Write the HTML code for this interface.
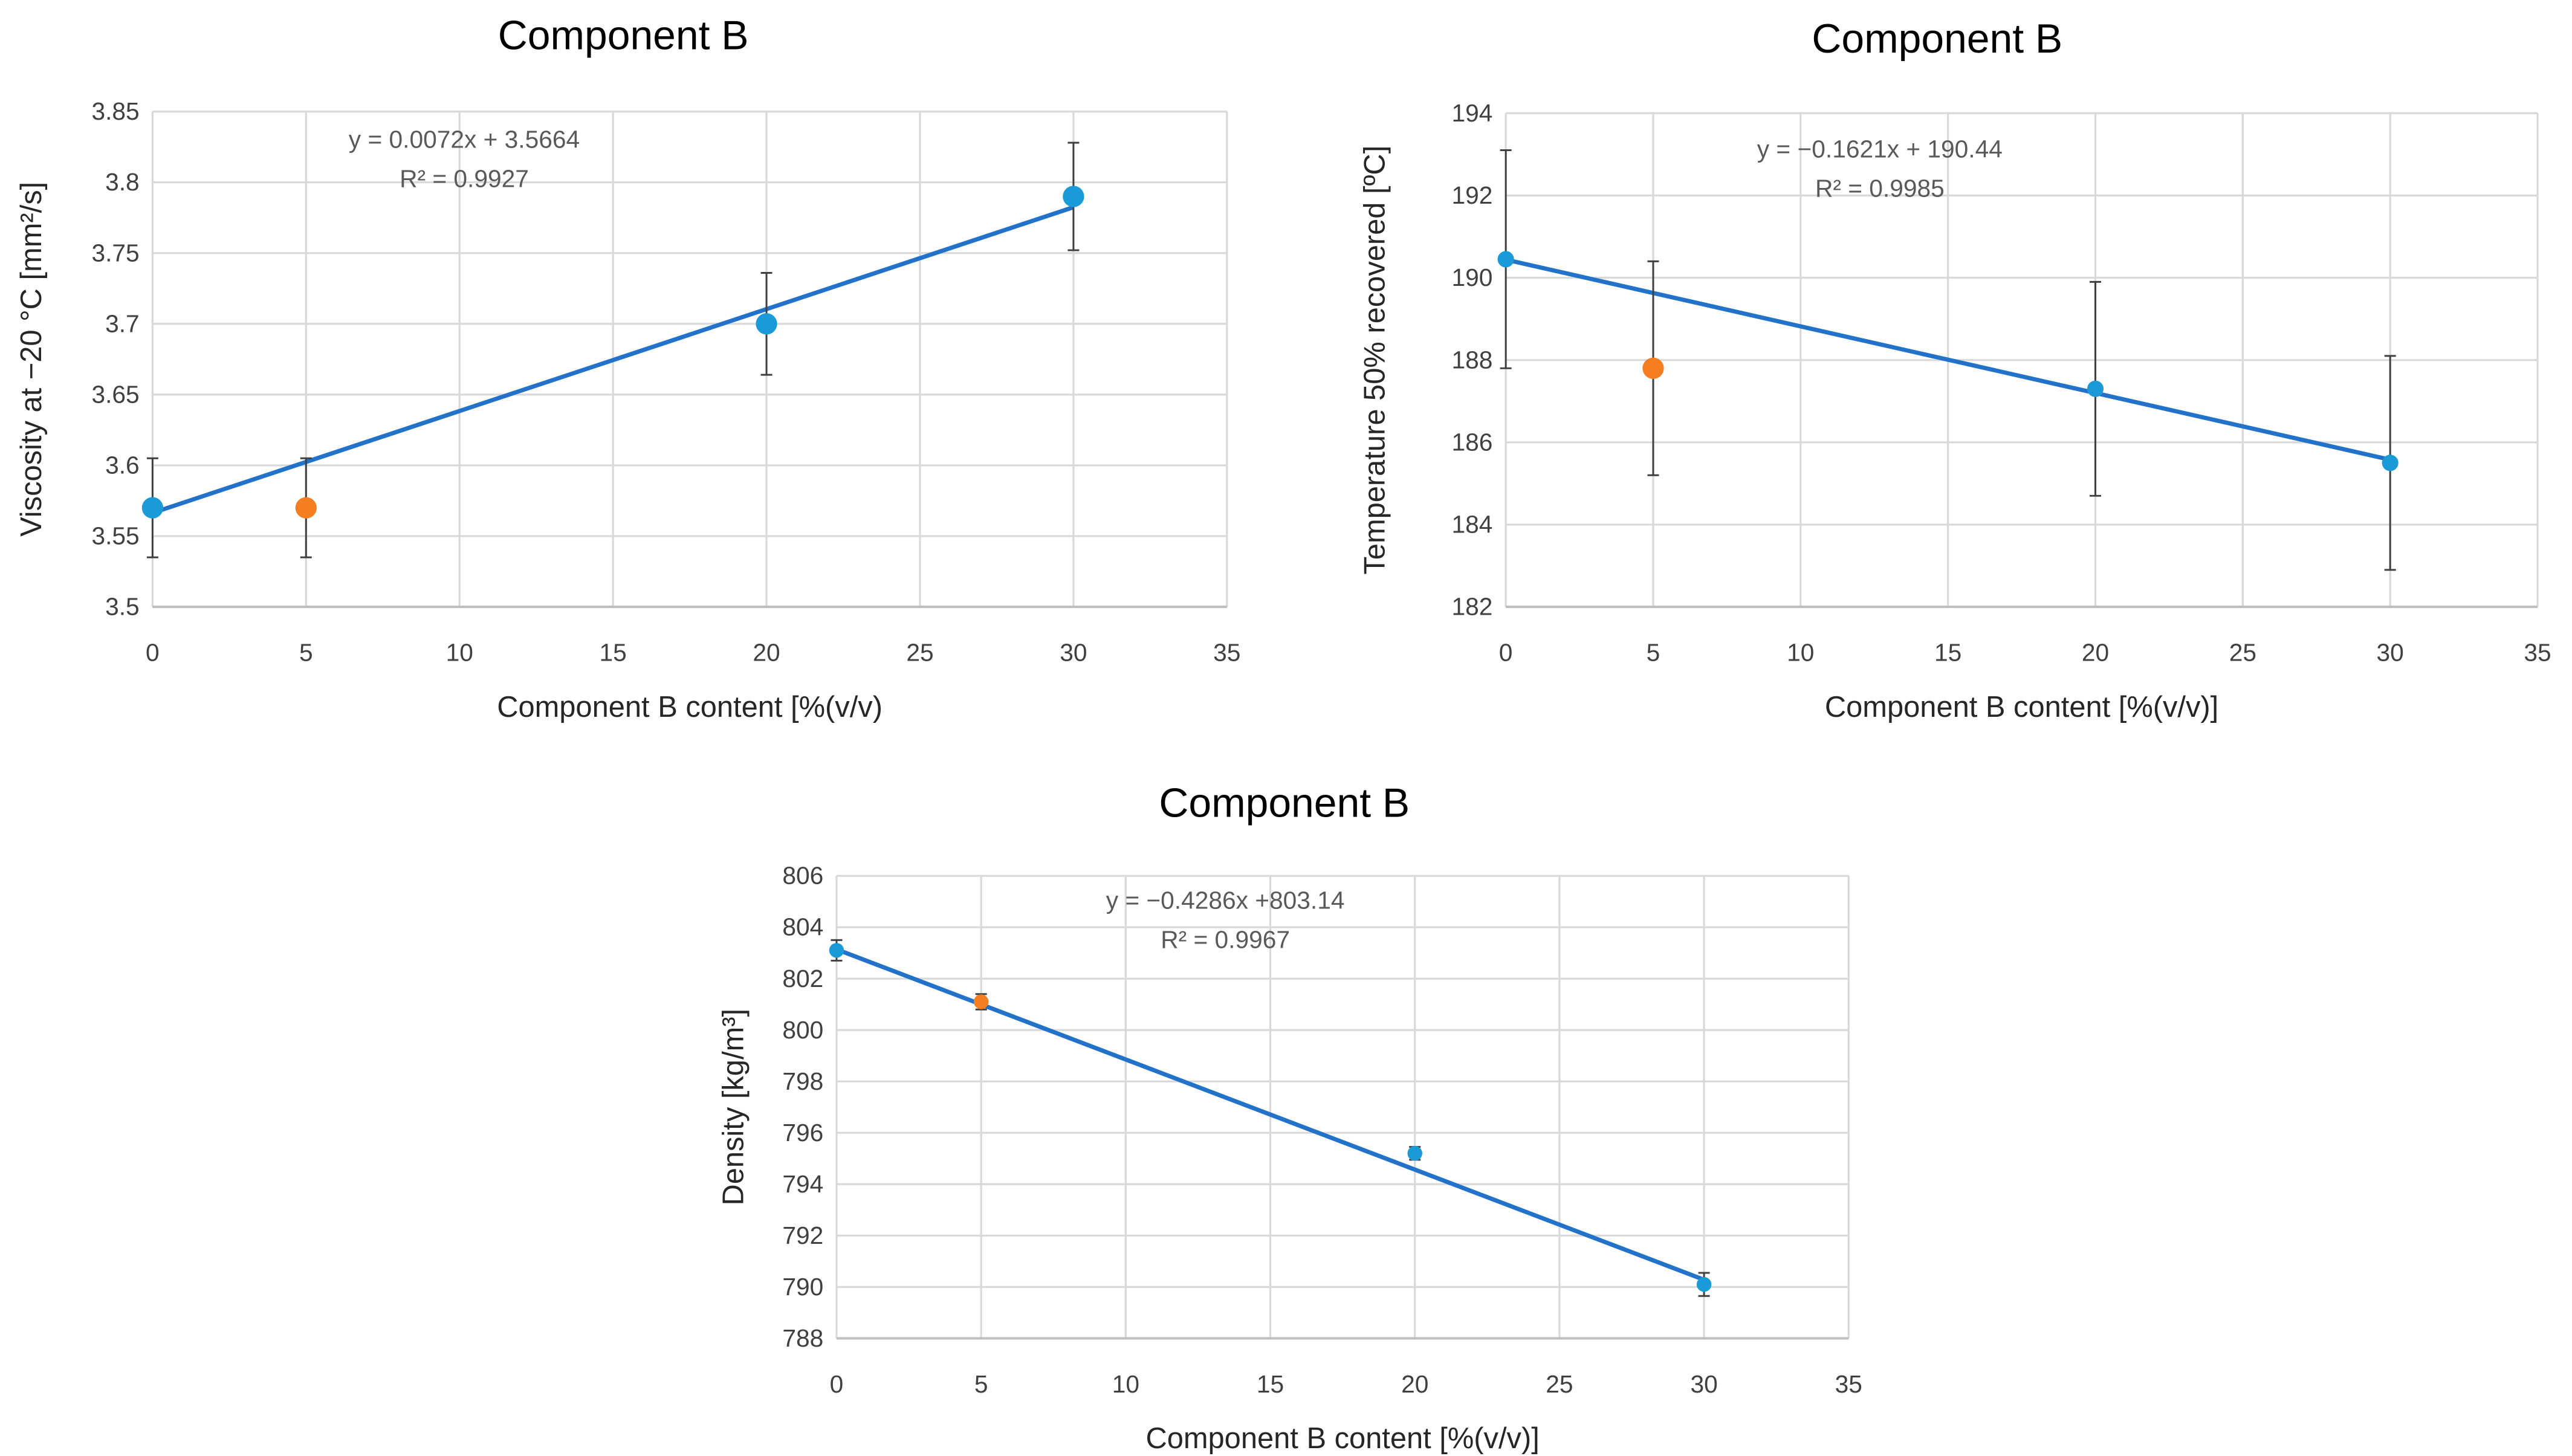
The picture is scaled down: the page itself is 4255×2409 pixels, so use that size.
<!DOCTYPE html>
<html><head><meta charset="utf-8"><style>
html,body{margin:0;padding:0;background:#fff}
svg{display:block}
text{font-family:"Liberation Sans",sans-serif}
</style></head><body>
<svg id="root" xmlns="http://www.w3.org/2000/svg" width="4255" height="2409" viewBox="0 0 1568 887.7"></svg>
<script>
const xCats=[0,5,20,30];
const xTicks=[0,5,10,15,20,25,30,35];
// chart 1: viscosity
const visVals=[3.57,3.57,3.70,3.79];
const visErr=[0.035,0.035,0.036,0.038];
const visTicks=[3.5,3.55,3.6,3.65,3.7,3.75,3.8,3.85];
const visFit=[0.0072,3.5664];
// chart 2: temperature
const tmpVals=[190.45,187.8,187.3,185.5];
const tmpErr=[2.65,2.6,2.6,2.6];
const tmpTicks=[182,184,186,188,190,192,194];
const tmpFit=[-0.1621,190.44];
// chart 3: density
const denVals=[803.1,801.1,795.2,790.1];
const denErr=[0.4,0.3,0.25,0.45];
const denTicks=[788,790,792,794,796,798,800,802,804,806];
const denFit=[-0.4286,803.14];
const colors=['#1a9ad6','#f57e20','#1a9ad6','#1a9ad6'];

const NS='http://www.w3.org/2000/svg';
const root=document.getElementById('root');
function mk(tag,attrs,parent,txt){const e=document.createElementNS(NS,tag);for(const k in attrs)e.setAttribute(k,attrs[k]);if(txt!==undefined)e.textContent=txt;parent.appendChild(e);return e;}

function chart(cfg){
  const g=mk('g',{},root);
  
  
  const {L,R,T,B}=cfg;
  const yMin=cfg.ticks[0],yMax=cfg.ticks[cfg.ticks.length-1];
  const sx=v=>L+(v-xTicks[0])/(xTicks[xTicks.length-1]-xTicks[0])*(R-L);
  const sy=v=>B-(v-yMin)/(yMax-yMin)*(B-T);
  cfg.ticks.forEach(t=>{
    const l=mk('line',{x1:L,x2:R,y1:sy(t),y2:sy(t),stroke:'#d9d9d9','stroke-width':1.2},g);
    
    
    const tx=mk('text',{x:L-8,y:sy(t)+5,'text-anchor':'end','font-size':15,fill:'#404040'},g,String(t));
    
    
  });
  xTicks.forEach(t=>{
    const l=mk('line',{x1:sx(t),x2:sx(t),y1:T,y2:B,stroke:'#d9d9d9','stroke-width':1.2},g);
    
    
    const tx=mk('text',{x:sx(t),y:B+33,'text-anchor':'middle','font-size':15,fill:'#404040'},g,String(t));
    
    
  });
  const ax=mk('line',{x1:L,x2:R,y1:B,y2:B,stroke:'#bfbfbf','stroke-width':1.5},g);
  
  
  // trendline
  const x0=xCats[0],x1=xCats[xCats.length-1];
  const tl=mk('line',{x1:sx(x0),y1:sy(cfg.fit[0]*x0+cfg.fit[1]),x2:sx(x1),y2:sy(cfg.fit[0]*x1+cfg.fit[1]),stroke:'#2372c9','stroke-width':2.6},g);
  
  
  xCats.forEach((c,i)=>{
    const x=sx(c),hi=sy(cfg.vals[i]+cfg.err[i]),lo=sy(cfg.vals[i]-cfg.err[i]);
    const eb=mk('path',{d:`M${x},${hi}V${lo}M${x-3.5},${hi}H${x+3.5}M${x-3.5},${lo}H${x+3.5}`,stroke:'#404040','stroke-width':1.1,fill:'none'},g);
    
    
    const p=mk('circle',{cx:x,cy:sy(cfg.vals[i]),r:(i===1?cfg.rO:cfg.r),fill:colors[i]},g);
    
    
  });
  const tt=mk('text',{x:cfg.tx,y:cfg.ty,'text-anchor':'middle','font-size':25,fill:'#000'},g,'Component B');
  
  
  const e1=mk('text',{x:cfg.ex,y:cfg.ey,'text-anchor':'middle','font-size':15,fill:'#595959'},g,cfg.eq);
  
  
  const e2=mk('text',{x:cfg.ex,y:cfg.ey+24,'text-anchor':'middle','font-size':15,fill:'#595959'},g,cfg.r2);
  
  
  const xl=mk('text',{x:(L+R)/2,y:B+67,'text-anchor':'middle','font-size':18,fill:'#262626'},g,cfg.xlab);
  
  
  const yl=mk('text',{x:0,y:0,'text-anchor':'middle','font-size':18,fill:'#262626',transform:`translate(${cfg.ylx},${(T+B)/2}) rotate(-90)`},g,cfg.ylab);
  
  
}
chart({name:'viscosity-chart',L:93,R:748,T:68,B:370,ticks:visTicks,vals:visVals,err:visErr,fit:visFit,r:6.5,rO:6.5,
  tx:380,ty:30,ex:283,ey:90,eq:'y = 0.0072x + 3.5664',r2:'R² = 0.9927',xlab:'Component B content [%(v/v)',ylab:'Viscosity at −20 °C [mm²/s]',ylx:25});
chart({name:'temperature-chart',L:918,R:1547,T:69,B:370,ticks:tmpTicks,vals:tmpVals,err:tmpErr,fit:tmpFit,r:5,rO:6.5,
  tx:1181,ty:32,ex:1146,ey:96,eq:'y = −0.1621x + 190.44',r2:'R² = 0.9985',xlab:'Component B content [%(v/v)]',ylab:'Temperature 50% recovered [ºC]',ylx:844});
chart({name:'density-chart',L:510,R:1127,T:534,B:816,ticks:denTicks,vals:denVals,err:denErr,fit:denFit,r:4.5,rO:4.5,
  tx:783,ty:498,ex:747,ey:554,eq:'y = −0.4286x +803.14',r2:'R² = 0.9967',xlab:'Component B content [%(v/v)]',ylab:'Density [kg/m³]',ylx:453});
</script>
</body></html>
